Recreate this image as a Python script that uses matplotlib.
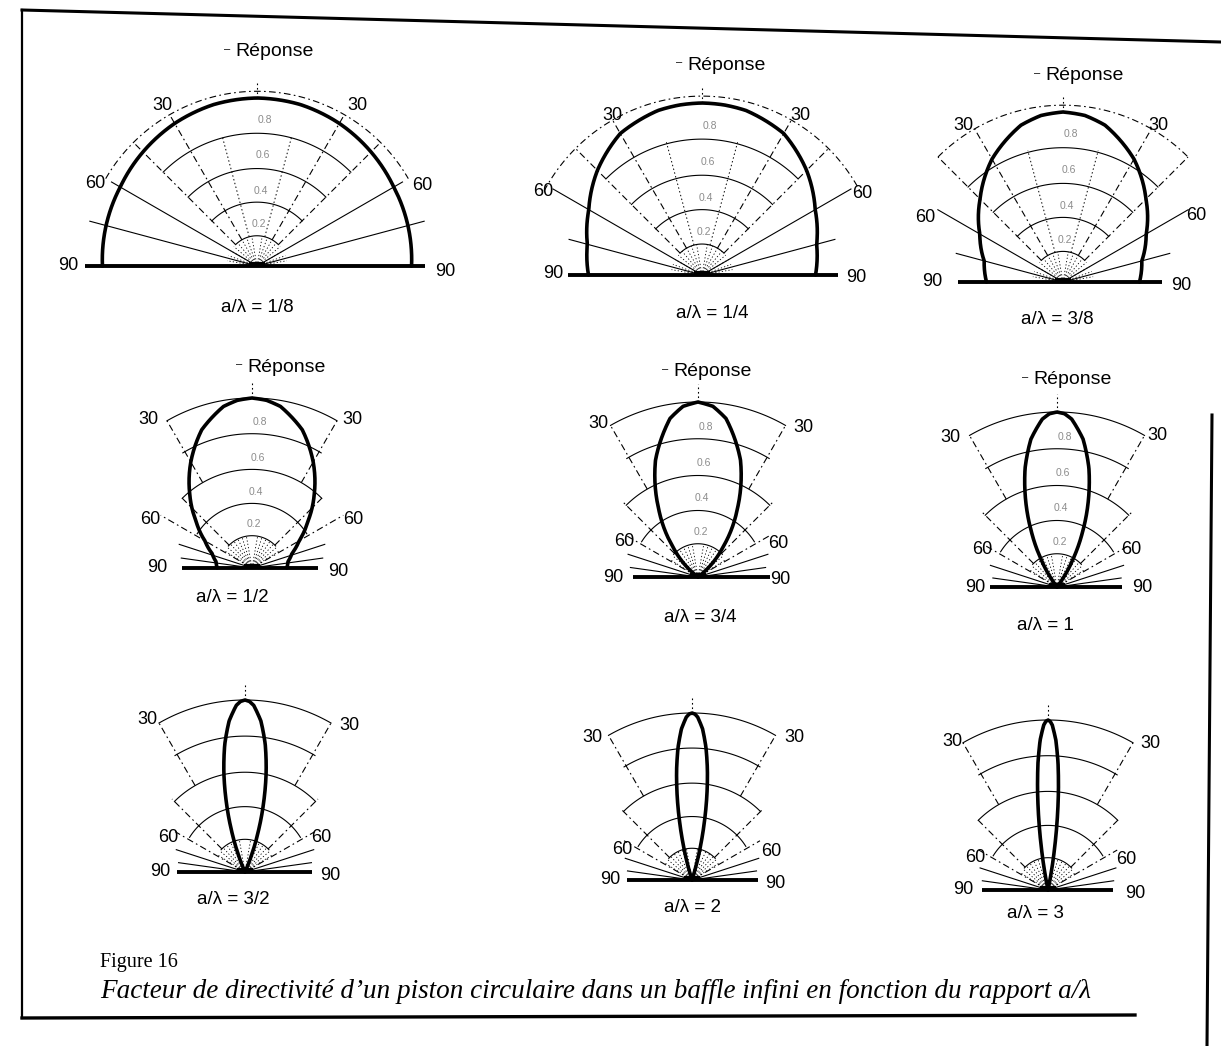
import numpy as np
import matplotlib
matplotlib.use("Agg")
import matplotlib.pyplot as plt

W, H = 1221, 1046

# ---------------- data ----------------
captions = ["a/λ = 1/8", "a/λ = 1/4", "a/λ = 3/8",
            "a/λ = 1/2", "a/λ = 3/4", "a/λ = 1",
            "a/λ = 3/2", "a/λ = 2", "a/λ = 3"]

# angle off-axis (degrees) and relative response, right half (symmetric)
ang_1_8 = [0, 15, 30, 45, 60, 75, 90]
resp_1_8 = [1.00, 0.995, 0.98, 0.96, 0.94, 0.93, 0.92]

ang_1_4 = [0, 7.5, 15, 30, 45, 60, 75, 90]
resp_1_4 = [1.00, 0.997, 0.99, 0.95, 0.86, 0.76, 0.69, 0.66]

ang_3_8 = [0, 7.5, 15, 30, 45, 60, 75, 90]
resp_3_8 = [1.00, 0.988, 0.955, 0.835, 0.69, 0.565, 0.48, 0.45]

ang_1_2 = [0, 5, 10, 20, 30, 40, 50, 60, 70, 80, 90]
resp_1_2 = [1.00, 0.99, 0.965, 0.865, 0.72, 0.57, 0.43, 0.32, 0.25, 0.215, 0.205]

ang_3_4 = [0, 5, 10, 20, 30, 40, 50, 54]
resp_3_4 = [1.00, 0.979, 0.92, 0.71, 0.45, 0.22, 0.05, 0.0]

ang_1 = [0, 2.5, 5, 10, 15, 20, 25, 30, 35, 37.5]
resp_1 = [1.00, 0.991, 0.963, 0.858, 0.704, 0.523, 0.343, 0.181, 0.053, 0.0]

ang_3_2 = [0, 1.5, 3, 6, 9, 12, 15, 18, 21, 24]
resp_3_2 = [1.00, 0.992, 0.97, 0.883, 0.752, 0.591, 0.419, 0.255, 0.112, 0.0]

ang_2 = [0, 1, 2, 4, 6, 8, 10, 12, 14, 16, 17.75]
resp_2 = [1.00, 0.994, 0.976, 0.907, 0.799, 0.663, 0.512, 0.358, 0.213, 0.089, 0.0]

ang_3 = [0, 0.75, 1.5, 3, 4.5, 6, 7.5, 9, 10.5, 11.7]
resp_3 = [1.00, 0.992, 0.97, 0.883, 0.751, 0.587, 0.412, 0.243, 0.096, 0.0]

grid_levels = ["0.8", "0.6", "0.4", "0.2"]

series = [(ang_1_8, resp_1_8), (ang_1_4, resp_1_4), (ang_3_8, resp_3_8),
          (ang_1_2, resp_1_2), (ang_3_4, resp_3_4), (ang_1, resp_1),
          (ang_3_2, resp_3_2), (ang_2, resp_2), (ang_3, resp_3)]

# ---------------- layout (pixels) ----------------
# origin x, origin y, radius, baseline left, baseline right, family, outer span,
# length of 60-deg ray, length of 75-deg ray
layout = [
    (257, 266, 168, 85, 425, "wide", 60, 1.0, 1.03),
    (702, 275, 172, 568, 838, "wide", 62, 1.0, 0.8),
    (1063, 282, 170, 958, 1162, "wide", 45, 0.85, 0.65),
    (252, 568, 170, 182, 318, "narrow", 30, 0.62, 0.45),
    (698, 577, 175, 633, 770, "narrow", 30, 0.47, 0.42),
    (1057, 587, 175, 990, 1122, "narrow", 30, 0.47, 0.40),
    (245, 872, 172, 177, 312, "narrow", 30, 0.47, 0.42),
    (692, 880, 167, 627, 758, "narrow", 30, 0.47, 0.42),
    (1048, 890, 170, 982, 1113, "narrow", 30, 0.47, 0.42),
]
# label positions: 90 L/R, 30 L/R, 60 L/R, Réponse, caption
labpos = [
    [(68, 266), (445, 271), (162, 106), (357, 106), (95, 184), (422, 186), (275, 52), (257, 307)],
    [(553, 273), (856, 278), (612, 116), (800, 115), (543, 192), (862, 193), (727, 65), (712, 313)],
    [(932, 282), (1181, 285), (963, 125), (1158, 125), (925, 217), (1196, 216), (1085, 76), (1057, 320)],
    [(157, 568), (338, 571), (148, 419), (352, 419), (150, 519), (353, 520), (287, 367), (232, 598)],
    [(613, 577), (780, 579), (598, 423), (803, 427), (624, 541), (778, 543), (713, 372), (700, 617)],
    [(975, 587), (1142, 587), (950, 437), (1157, 435), (982, 550), (1131, 550), (1073, 380), (1045, 625)],
    [(160, 871), (330, 875), (147, 720), (349, 725), (168, 837), (321, 837), None, (233, 899)],
    [(610, 879), (775, 884), (592, 737), (794, 737), (622, 850), (771, 852), None, (693, 907)],
    [(963, 890), (1135, 893), (952, 742), (1150, 743), (975, 858), (1126, 860), None, (1035, 913)],
]

SANS = ["Liberation Sans", "DejaVu Sans"]
SERIF = ["Liberation Serif", "DejaVu Serif"]

fig = plt.figure(figsize=(W / 100, H / 100), dpi=100)
fig.patch.set_facecolor("white")

DASHDOT = (0, (6, 3, 1.5, 3))
DOT = (0, (1.5, 2.5))
RMAX = 1.3


def arc(ax, r, span, **kw):
    t = np.radians(np.linspace(-span, span, 120))
    ax.plot(t, np.full_like(t, r), **kw)


def radial(ax, deg, r0, r1, **kw):
    for s in (-1, 1):
        t = np.radians(s * deg)
        ax.plot([t, t], [r0, r1], **kw)


for i, ((ang, resp), lay) in enumerate(zip(series, layout)):
    ox, oy, R, bl, br, fam, span, l60, l75 = lay
    h = RMAX * R
    ax = fig.add_axes([(ox - h) / W, (H - oy - h) / H, 2 * h / W, 2 * h / H],
                      projection="polar")
    ax.set_theta_zero_location("N")
    ax.set_theta_direction(-1)
    ax.set_rlim(0, RMAX)
    ax.set_axis_off()
    ax.patch.set_visible(False)

    gk = dict(color="black", lw=0.8)
    if fam == "wide":
        for r in [0.79, 0.58, 0.38, 0.18]:
            arc(ax, r, 45, **gk)
        arc(ax, 1.04, span, color="black", lw=0.8, ls=DASHDOT)
        radial(ax, 60, 0, l60, **gk)
        radial(ax, 75, 0, l75, **gk)
        radial(ax, 30, 0.18, 1.04, color="black", lw=0.8, ls=DASHDOT)
        radial(ax, 45, 0.18, 1.04, color="black", lw=0.8, ls=DASHDOT)
        radial(ax, 15, 0.18, 0.8, color="black", lw=0.7, ls=DOT)
        for d in range(10, 90, 10):
            radial(ax, d, 0.02, 0.18, color="black", lw=0.6, ls=DOT)
        lab_r = [0.87, 0.66, 0.45, 0.25]
    else:
        arc(ax, 1.0, span, **gk)
        for r, sp in [(0.79, 31), (0.58, 45), (0.38, 58), (0.19, 47)]:
            arc(ax, r, sp, **gk)
        radial(ax, 30, 0.58, 1.0, color="black", lw=0.8, ls=DASHDOT)
        radial(ax, 45, 0.19, 0.6, color="black", lw=0.8, ls=DASHDOT)
        radial(ax, 60, 0, l60, color="black", lw=0.8, ls=DASHDOT)
        radial(ax, 72, 0, l75, **gk)
        radial(ax, 82, 0, l75 - 0.03, **gk)
        for d in range(10, 60, 8):
            radial(ax, d, 0.02, 0.19, color="black", lw=0.6, ls=DOT)
        lab_r = [0.86, 0.65, 0.45, 0.26]
    ax.plot([0, 0], [1.0, 1.1], color="black", lw=0.8, ls=DOT)

    # inner level labels (top two rows only)
    if i < 6:
        for txt, rr in zip(grid_levels, lab_r):
            ax.text(np.radians(3), rr, txt, fontsize=7.5, color="#8c8c8c",
                    ha="center", va="center", family=SANS)

    # directivity pattern, mirrored; drawn with the polar axes' own interpolation
    th = np.radians(np.array(ang, dtype=float))
    rr = np.array(resp, dtype=float)
    th_full = np.concatenate([-th[::-1], th[1:]])
    r_full = np.concatenate([rr[::-1], rr[1:]])
    line, = ax.plot(th_full, r_full, color="black", lw=2.6, solid_capstyle="round",
                    solid_joinstyle="round", zorder=5)
    line.get_path()._interpolation_steps = 30

# ---------------- overlay for text, baselines and frame ----------------
ov = fig.add_axes([0, 0, 1, 1])
ov.set_xlim(0, W)
ov.set_ylim(H, 0)
ov.set_axis_off()
ov.patch.set_visible(False)

for i, (lay, lp) in enumerate(zip(layout, labpos)):
    ox, oy, R, bl, br = lay[:5]
    ov.plot([bl, br], [oy, oy], color="black", lw=2.8, solid_capstyle="butt")
    ov.plot([ox - 6, ox + 6], [oy - 2, oy - 2], color="black", lw=3)
    for k, txt in enumerate(["90", "90", "30", "30", "60", "60"]):
        x, y = lp[k]
        ov.text(x, y, txt, fontsize=13, ha="center", va="center", family=SANS)
    if lp[6] is not None:
        x, y = lp[6]
        ov.text(x, y, "Réponse", fontsize=14, ha="center", va="center", family=SANS)
        ov.text(x - 48, y - 3, "–", fontsize=8, ha="center", va="center", family=SANS)
    x, y = lp[7]
    ov.text(x, y, captions[i], fontsize=13.5, ha="center", va="center", family=SANS)

# frame
ov.plot([22, 1221], [10, 42], color="black", lw=2.2)
ov.plot([22, 22], [10, 1018], color="black", lw=1.6)
ov.plot([22, 1135], [1018, 1015], color="black", lw=2.4)
ov.plot([1212, 1207], [415, 1046], color="black", lw=2.2)

ov.text(100, 963, "Figure 16", fontsize=14.5, ha="left", va="center", family=SERIF)
ov.text(100, 991, "Facteur de directivité d’un piston circulaire dans un baffle infini en fonction du rapport a/λ",
        fontsize=19.5, ha="left", va="center", family=SERIF, style="italic")

fig.savefig("out.png", dpi=100, facecolor="white")
